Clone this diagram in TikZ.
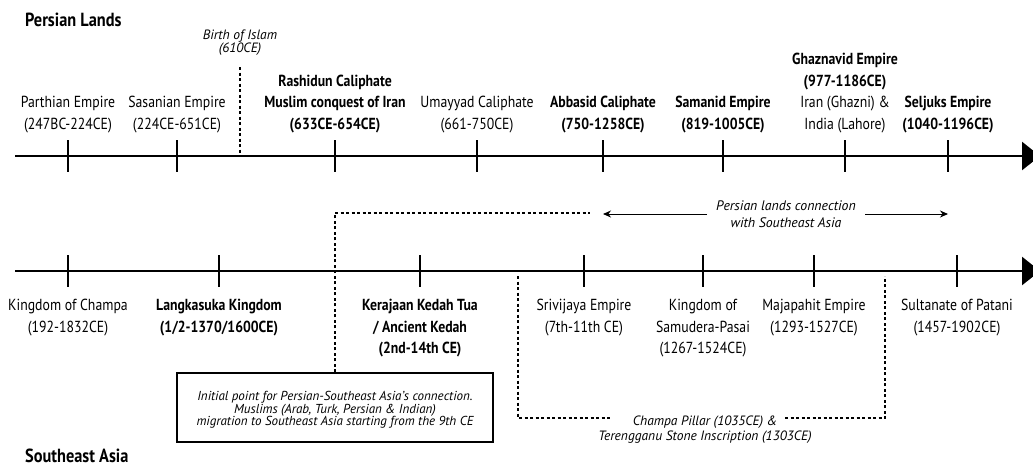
\documentclass[tikz,border=0pt]{standalone}
\usepackage{fontspec}
\setmainfont[FakeStretch=0.86,ItalicFeatures={FakeStretch=1.0},BoldItalicFeatures={FakeStretch=1.0}]{PT Sans}
\usetikzlibrary{arrows.meta,positioning,calc}

\begin{document}
\begin{tikzpicture}[x=1pt,y=1pt,
node distance=22pt,
lbl/.style={align=center,font=\fontsize{16}{21.5}\selectfont,inner sep=1pt},
blbl/.style={lbl,font=\fontsize{16}{21.5}\selectfont\bfseries},
note/.style={align=center,font=\fontsize{13.5}{13}\selectfont\itshape,inner sep=1pt},
head/.style={font=\fontsize{19}{20}\selectfont\bfseries,anchor=west,inner sep=0pt},
ibox/.style={draw,line width=1.2pt,minimum width=316pt,minimum height=69pt},
boxtext/.style={align=center,inner sep=0pt,font=\fontsize{13}{12.5}\selectfont\itshape},
axis/.style={line width=2.6pt,-{Triangle[length=18pt,width=28pt]}},
tick/.style={line width=2pt},
dashline/.style={line width=1.2pt,dash pattern=on 3pt off 2.5pt},
arr/.style={-{Stealth[length=8pt,width=7pt]},line width=1pt}
]
\useasboundingbox (0,0) rectangle (1033,-467);

% Persian lands
\node[head] (persia) at (25,-20) {Persian Lands};
\coordinate (topL) at (15,-156);
\coordinate (topR) at (1040,-156);
\draw[axis] (topL) -- (topR);
\foreach \n/\x in {parthian/68,sasanian/177,rashidun/335,umayyad/477,
  abbasid/603,samanid/723,ghaznavid/845,seljuks/948}
  {\coordinate (\n) at (\x,-156);
   \draw[tick] (\n) ++(0,16) -- ++(0,-32);}
\node[lbl,above=of parthian] (parthianL) {Parthian Empire\\(247BC-224CE)};
\node[lbl,above=of sasanian] (sasanianL) {Sasanian Empire\\(224CE-651CE)};
\node[blbl,above=of rashidun] (rashidunL) {Rashidun Caliphate\\Muslim conquest of Iran\\(633CE-654CE)};
\node[lbl,above=of umayyad] (umayyadL) {Umayyad Caliphate\\(661-750CE)};
\node[blbl,above=of abbasid] (abbasidL) {Abbasid Caliphate\\(750-1258CE)};
\node[blbl,above=of samanid] (samanidL) {Samanid Empire\\(819-1005CE)};
\node[lbl,above=of ghaznavid] (ghaznavidL) {\textbf{Ghaznavid Empire}\\\textbf{(977-1186CE)}\\Iran (Ghazni) \&\\India (Lahore)};
\node[blbl,above=of seljuks] (seljuksL) {Seljuks Empire\\(1040-1196CE)};

% birth of Islam
\node[note] (islam) at (240,-43) {Birth of Islam\\(610CE)};
\coordinate (islamtop) at (240,-67);
\coordinate (islamaxis) at (240,-156);
\draw[dashline] (islamtop) -- (islamaxis);

% Southeast Asia
\coordinate (botL) at (15,-271);
\coordinate (botR) at (1040,-271);
\draw[axis] (botL) -- (botR);
\foreach \n/\x in {champa/68,langkasuka/219,kedah/420,srivijaya/584,
  samudera/703,majapahit/814,patani/957}
  {\coordinate (\n) at (\x,-271);
   \draw[tick] (\n) ++(0,16) -- ++(0,-32);}
\node[lbl,below=27pt of champa] (champaL) {Kingdom of Champa\\(192-1832CE)};
\node[blbl,below=27pt of langkasuka] (langkasukaL) {Langkasuka Kingdom\\(1/2-1370/1600CE)};
\node[blbl,below=27pt of kedah] (kedahL) {Kerajaan Kedah Tua\\/ Ancient Kedah\\(2nd-14th CE)};
\node[lbl,below=27pt of srivijaya] (srivijayaL) {Srivijaya Empire\\(7th-11th CE)};
\node[lbl,below=27pt of samudera] (samuderaL) {Kingdom of\\Samudera-Pasai\\(1267-1524CE)};
\node[lbl,below=27pt of majapahit] (majapahitL) {Majapahit Empire\\(1293-1527CE)};
\node[lbl,below=27pt of patani] (pataniL) {Sultanate of Patani\\(1457-1902CE)};
\node[head] (sea) at (25,-456) {Southeast Asia};

% connection
\node[note,font=\fontsize{13.8}{16.5}\selectfont\itshape,inner xsep=9pt] (conn) at (786,-214)
  {Persian lands connection\\with Southeast Asia};
\draw[arr] (conn.west) -- (abbasid |- conn);
\draw[arr] (conn.east) -- (seljuks |- conn);

\node[ibox] (initbox) at (335,-407.5) {};
\node[boxtext,below=19pt of initbox.north] (inittext) {Initial point for Persian-Southeast Asia's connection.\\Muslims (Arab, Turk, Persian \& Indian)\\migration to Southeast Asia starting from the 9th CE};
\coordinate (initend) at (590,-213);
\draw[dashline] (initbox.north) |- (initend);

\node[note,font=\fontsize{13.5}{15}\selectfont\itshape] (pillar) at (705,-430)
  {Champa Pillar (1035CE) \&\\Terengganu Stone Inscription (1303CE)};
\coordinate (pilL) at (518,-276);
\coordinate (pilR) at (885,-276);
\coordinate (pilA) at (610,-418);
\coordinate (pilB) at (785,-418);
\draw[dashline] (pilL) |- (pilA);
\draw[dashline] (pilB) -| (pilR);
\end{tikzpicture}
\end{document}
